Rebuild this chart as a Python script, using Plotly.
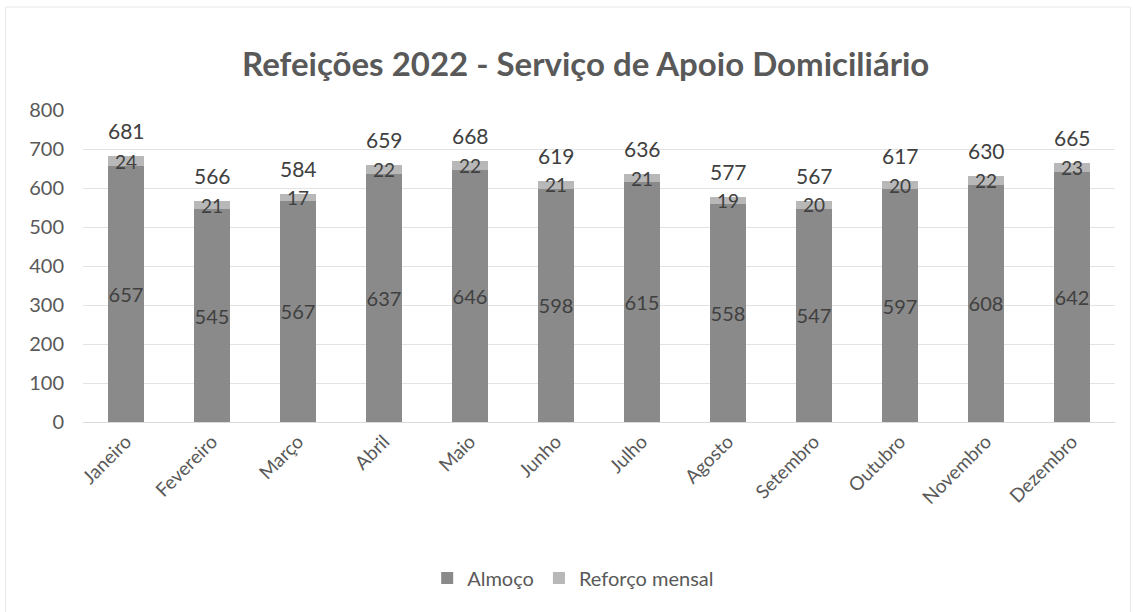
import plotly.graph_objects as go

# Monthly meals served by the home-support service in 2022
months = ["Janeiro", "Fevereiro", "Março", "Abril", "Maio", "Junho",
          "Julho", "Agosto", "Setembro", "Outubro", "Novembro", "Dezembro"]
almoco = [657, 545, 567, 637, 646, 598, 615, 558, 547, 597, 608, 642]
reforco = [24, 21, 17, 22, 22, 21, 21, 19, 20, 20, 22, 23]
totals = [a + r for a, r in zip(almoco, reforco)]

FONT = "Lato"
LABEL_COLOR = "#404040"
AXIS_COLOR = "#595959"

fig = go.Figure()

fig.add_trace(go.Bar(
    name="Almoço", x=months, y=almoco,
    marker=dict(color="#8a8a8a", line=dict(width=0)),
    text=[str(v) for v in almoco], textposition="inside",
    insidetextanchor="middle", textangle=0, constraintext="none",
    textfont=dict(family=FONT, size=20, color=LABEL_COLOR),
))
fig.add_trace(go.Bar(
    name="Reforço mensal", x=months, y=reforco,
    marker=dict(color="#b8b8b8", line=dict(width=0)),
    text=[str(v) for v in reforco], textposition="inside",
    insidetextanchor="middle", textangle=0, constraintext="none",
    textfont=dict(family=FONT, size=19, color=LABEL_COLOR),
))

# Totals above each stacked bar
for m, t in zip(months, totals):
    fig.add_annotation(
        x=m, y=t, text=str(t), showarrow=False,
        xanchor="center", yanchor="bottom", yshift=11,
        font=dict(family=FONT, size=21, color=LABEL_COLOR),
    )

fig.update_layout(
    width=1135, height=612,
    barmode="stack", bargap=0.59,
    uniformtext=dict(mode=False),
    paper_bgcolor="white", plot_bgcolor="white",
    margin=dict(l=83, r=20, t=110, b=190, autoexpand=False),
    title=dict(
        text="<b>Refeições 2022 - Serviço de Apoio Domiciliário</b>",
        x=0.516, xanchor="center", y=0.895, yanchor="middle",
        font=dict(family=FONT, size=33, color="#595959"),
    ),
    legend=dict(
        orientation="h", x=0.475, xanchor="center", y=-0.5, yanchor="middle",
        font=dict(family=FONT, size=20, color=AXIS_COLOR),
        itemwidth=30, traceorder="normal",
    ),
    font=dict(family=FONT, color=AXIS_COLOR),
)
fig.update_xaxes(
    tickangle=-45, tickfont=dict(family=FONT, size=19, color=AXIS_COLOR),
    showline=True, linecolor="#d9d9d9", linewidth=1, ticks="",
)
fig.update_yaxes(
    range=[0, 800], dtick=100, tickfont=dict(family=FONT, size=20, color=AXIS_COLOR),
    showgrid=True, gridcolor="#e3e3e3", gridwidth=1, zeroline=False,
    showline=False, ticks="", ticklabelstandoff=18,
)
# Light frame round the chart area
fig.add_shape(type="rect", xref="paper", yref="paper",
              x0=-0.075, x1=1.015, y0=-0.62, y1=1.33,
              line=dict(color="#e6e6e6", width=1), layer="below")

fig.write_html("out.html")
